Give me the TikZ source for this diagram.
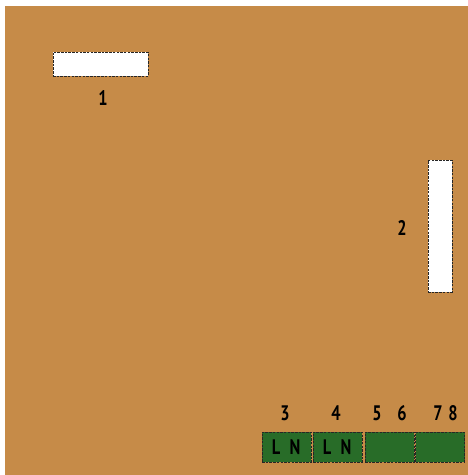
\documentclass[tikz,border=0pt]{standalone}
\usepackage{fontspec}
\setmainfont{PT Sans}[FakeStretch=0.78]
\definecolor{board}{RGB}{198,139,72}
\definecolor{term}{RGB}{40,108,40}

\begin{document}
\begin{tikzpicture}[
  x=1pt, y=-1pt,
  font=\bfseries\fontsize{21}{21}\selectfont,
  slot/.style={draw=black!85, line width=0.9pt, dash pattern=on 2.5pt off 1.2pt,
    fill=white, inner sep=0pt},
  block/.style={draw=black!85, line width=0.9pt, dash pattern=on 2.5pt off 1.2pt,
    fill=term, inner sep=0pt, minimum width=49pt, minimum height=30pt},
  num/.style={inner sep=0pt, text=black},
]
  \useasboundingbox (0,0) rectangle (468,475);
  \fill[board] (5,6) rectangle (468,475);

  % slots
  \node[slot, minimum width=95pt, minimum height=24pt] (s1) at (100.5,64) {};
  \node[slot, minimum width=24pt, minimum height=132pt] (s2) at (440,226) {};
  \node[num] (n1) at (103,98) {1};
  \node[num] (n2) at (402,228) {2};

  % terminal blocks
  \node[block] (t1) at (286.5,447) {};
  \node[block] (t2) at (337.5,447) {};
  \node[block] (t3) at (389.5,447) {};
  \node[block] (t4) at (440,447) {};

  \node[num] (l1) at (276,447) {L};
  \node[num] (m1) at (295,447) {N};
  \node[num] (l2) at (327,447) {L};
  \node[num] (m2) at (346,447) {N};

  \node[num] (n3) at (285,413) {3};
  \node[num] (n4) at (336,413) {4};
  \node[num] (n5) at (377,413) {5};
  \node[num] (n6) at (402,413) {6};
  \node[num] (n7) at (438,413) {7};
  \node[num] (n8) at (453,413) {8};
\end{tikzpicture}
\end{document}
